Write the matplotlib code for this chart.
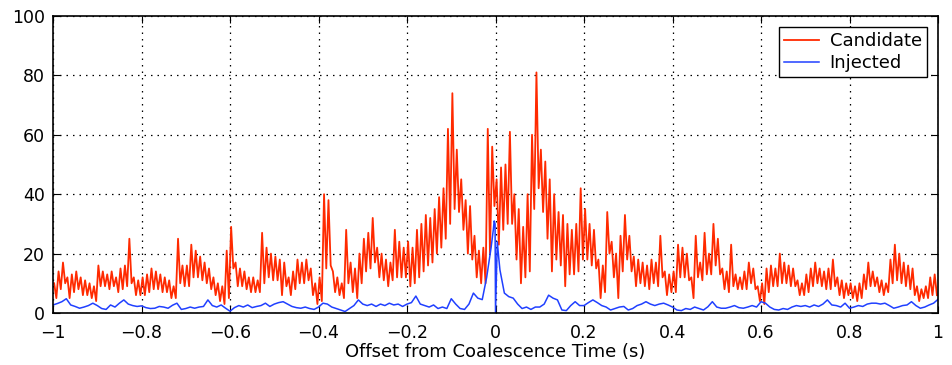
import numpy as np
import matplotlib
matplotlib.use("Agg")
import matplotlib.pyplot as plt

plt.rcParams['font.family'] = ['DejaVu Sans']

# candidate SNR: upper / lower extent in each 10 ms bin, -1.00 .. 0.99 s
cand_hi = [
    10, 14, 17, 12, 13, 14, 12, 11, 10, 9,
    16, 14, 13, 14, 12, 15, 16, 25, 12, 11,
    12, 13, 15, 14, 13, 12, 11, 9, 25, 16,
    16, 23, 21, 19, 17, 15, 12, 10, 9, 21,
    29, 17, 15, 14, 12, 12, 11, 27, 22, 20,
    19, 18, 17, 12, 14, 18, 17, 18, 15, 10,
    12, 40, 38, 14, 12, 10, 28, 17, 15, 20,
    25, 27, 32, 22, 20, 18, 17, 28, 24, 22,
    24, 22, 28, 30, 33, 32, 35, 39, 42, 62,
    74, 55, 45, 38, 36, 26, 21, 22, 62, 56,
    45, 49, 50, 61, 40, 35, 29, 40, 60, 81,
    55, 51, 45, 40, 34, 33, 30, 28, 30, 42,
    35, 30, 28, 18, 16, 34, 24, 20, 26, 33,
    26, 19, 18, 17, 16, 18, 17, 26, 14, 13,
    14, 23, 22, 20, 12, 26, 17, 27, 20, 30,
    25, 15, 14, 23, 13, 12, 14, 17, 15, 9,
    10, 15, 16, 15, 20, 17, 16, 15, 11, 10,
    13, 15, 17, 15, 14, 15, 18, 12, 11, 10,
    10, 9, 10, 13, 17, 14, 12, 11, 10, 18,
    23, 20, 17, 16, 15, 9, 8, 9, 12, 13,
]
cand_lo = [
    5, 8, 10, 5, 7, 8, 6, 6, 5, 4,
    9, 9, 8, 9, 7, 8, 9, 10, 6, 6,
    6, 7, 8, 8, 7, 7, 5, 5, 10, 9,
    9, 12, 12, 11, 10, 8, 6, 4, 3, 5,
    15, 9, 9, 8, 7, 7, 7, 10, 12, 11,
    11, 6, 9, 6, 8, 10, 10, 11, 6, 3,
    4, 15, 16, 7, 6, 5, 10, 7, 5, 10,
    14, 15, 17, 12, 11, 9, 11, 12, 12, 12,
    9, 10, 12, 14, 16, 17, 20, 22, 25, 30,
    35, 34, 28, 20, 18, 12, 10, 10, 20, 36,
    23, 28, 30, 30, 18, 10, 12, 14, 35, 42,
    34, 25, 14, 18, 16, 9, 13, 13, 14, 18,
    18, 16, 15, 5, 7, 20, 12, 5, 14, 18,
    14, 9, 10, 9, 8, 10, 9, 12, 6, 7,
    7, 12, 12, 11, 5, 12, 11, 13, 13, 16,
    13, 8, 7, 9, 8, 8, 8, 10, 8, 4,
    3, 7, 9, 9, 10, 10, 9, 9, 6, 6,
    7, 9, 10, 9, 8, 8, 9, 6, 5, 6,
    5, 4, 5, 8, 9, 9, 7, 6, 7, 10,
    11, 10, 9, 8, 6, 4, 5, 5, 6, 6,
]

# injected SNR sampled every 10 ms, -1.00 .. 1.00 s
inj_vals = [
    2.7, 3.2, 3.8, 4.8, 2.7, 2.2, 1.6, 2.0, 2.5, 3.3,
    2.5, 1.5, 1.2, 2.7, 2.0, 3.3, 4.4, 3.0, 2.5, 2.2,
    2.4, 1.8, 1.5, 1.6, 2.2, 2.0, 1.6, 2.6, 3.3, 1.2,
    1.5, 2.0, 1.6, 2.0, 2.2, 4.4, 2.5, 2.0, 2.7, 1.6,
    0.6, 1.8, 2.5, 2.0, 2.7, 1.8, 2.2, 2.5, 3.3, 2.2,
    3.0, 3.5, 3.8, 3.0, 2.2, 1.8, 1.6, 2.0, 1.5, 1.2,
    2.0, 3.3, 3.0, 2.0, 1.5, 1.0, 0.5, 1.5, 2.5, 4.4,
    3.0, 2.5, 3.0, 2.2, 3.0, 2.5, 3.3, 2.7, 3.0, 2.2,
    3.0, 3.5, 5.7, 3.0, 2.5, 2.0, 2.7, 1.5, 2.0, 1.5,
    4.8, 3.0, 1.5, 1.2, 3.0, 6.7, 5.0, 4.5, 12.0, 22.0,
    0.2, 14.5, 6.7, 5.5, 5.0, 3.0, 1.5, 2.0, 1.2, 2.0,
    2.0, 3.0, 6.0, 5.0, 4.4, 1.0, 0.8, 2.5, 3.8, 2.5,
    2.5, 3.5, 4.4, 3.5, 2.5, 2.0, 1.0, 1.5, 2.0, 2.2,
    1.0, 1.5, 2.5, 3.0, 3.8, 3.0, 2.5, 3.0, 3.3, 2.7,
    2.0, 1.0, 0.8, 1.5, 1.2, 2.0, 1.5, 1.0, 2.1, 3.8,
    2.0, 1.6, 1.6, 2.0, 2.5, 1.8, 1.6, 2.0, 2.5, 2.0,
    3.8, 3.3, 2.0, 1.2, 1.0, 1.5, 1.2, 2.0, 2.5, 2.2,
    2.5, 2.0, 2.7, 2.2, 3.0, 4.4, 2.7, 2.5, 2.0, 3.3,
    1.6, 2.0, 2.5, 2.2, 3.0, 3.3, 3.3, 3.0, 3.3, 2.5,
    1.6, 2.0, 2.5, 2.7, 3.8, 2.5, 1.6, 2.0, 2.7, 3.3,
    4.6,
]
# extra samples around the injection peak
peak_t = [-0.005, -0.003, -0.001, 0.004, 0.007]
peak_v = [28.0, 31.0, 30.0, 24.0, 19.0]

xticks = [-1, -0.8, -0.6, -0.4, -0.2, 0, 0.2, 0.4, 0.6, 0.8, 1]
xtick_labels = ['\u22121', '\u22120.8', '\u22120.6', '\u22120.4', '\u22120.2',
                '0', '0.2', '0.4', '0.6', '0.8', '1']
yticks = [0, 20, 40, 60, 80, 100]

# each 10 ms bin drawn as one up-down stroke between its upper and lower value
bin_start = -1.0 + 0.01 * np.arange(len(cand_hi))
cand_t = np.column_stack([bin_start + 0.0025, bin_start + 0.0075]).ravel()
cand_v = np.column_stack([cand_hi, cand_lo]).ravel()

grid_t = np.round(np.linspace(-1, 1, len(inj_vals)), 3)
inj_t = np.concatenate([grid_t, peak_t])
inj_v = np.concatenate([inj_vals, peak_v])
order = np.argsort(inj_t, kind='stable')
inj_t, inj_v = inj_t[order], inj_v[order]

fig = plt.figure(figsize=(9.52, 3.65), dpi=100)
ax = fig.add_axes([0.0557, 0.1425, 0.9296, 0.8137])

ax.plot(cand_t, cand_v, color='#ff2a00', lw=1.3, label='Candidate')
ax.plot(inj_t, inj_v, color='#2040ff', lw=1.1, label='Injected')

ax.set_xlim(-1, 1)
ax.set_ylim(0, 100)
ax.set_xticks(xticks)
ax.set_xticklabels(xtick_labels)
ax.set_yticks(yticks)
ax.tick_params(direction='in', top=True, right=True, length=5, width=0.8,
               labelsize=12.5)
ax.tick_params(axis='x', pad=8)
ax.tick_params(axis='y', pad=6)
ax.grid(True, color='black', linestyle=(0, (1.2, 4)), linewidth=0.9)
for s in ax.spines.values():
    s.set_linewidth(1.2)

ax.set_xlabel('Offset from Coalescence Time (s)', fontsize=13, labelpad=1)

leg = ax.legend(loc='upper right', fontsize=13, fancybox=False,
                framealpha=1, edgecolor='black', handlelength=1.9,
                borderpad=0.3, labelspacing=0.2, borderaxespad=0.6,
                handletextpad=0.6)
leg.get_frame().set_linewidth(1.0)

fig.savefig('out.png', dpi=100)
